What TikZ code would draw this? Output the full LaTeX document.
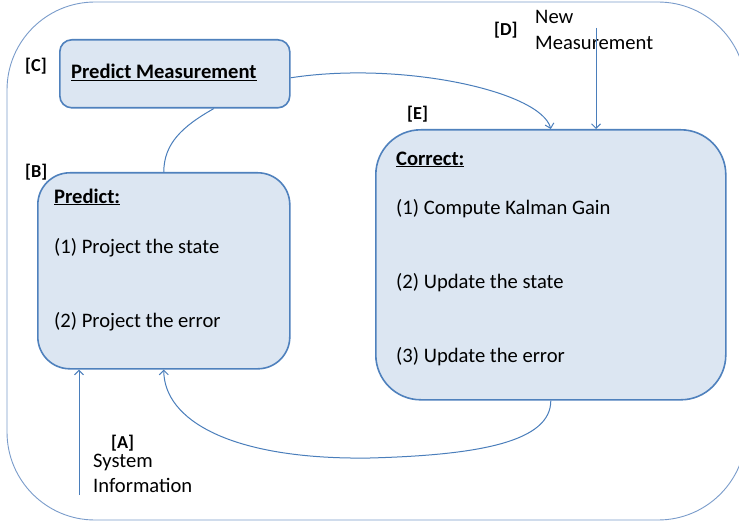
\documentclass[tikz,border=0pt]{standalone}
\usepackage{fontspec}
\setmainfont{Carlito}
\usetikzlibrary{arrows.meta}
\definecolor{boxfill}{HTML}{DCE6F2}
\definecolor{boxline}{HTML}{4F81BD}
\definecolor{conn}{HTML}{4A7EBB}
\definecolor{outer}{HTML}{7A9CCB}
\tikzset{
  box/.style={draw=boxline, fill=boxfill, line width=1.6pt, inner sep=0pt, anchor=north west},
  txt/.style={anchor=base west, inner sep=0pt, font=\fontsize{20.6}{24}\selectfont},
  btxt/.style={txt, font=\fontsize{20.6}{24}\selectfont\bfseries},
  lbl/.style={anchor=base west, inner sep=0pt, font=\fontsize{18.3}{22}\selectfont\bfseries},
  conline/.style={draw=conn, line width=1pt},
  arr/.style={conline, -{Straight Barb[length=4.5pt,width=9pt]}},
}
\begin{document}
\begin{tikzpicture}[x=1pt,y=-1pt]
\useasboundingbox (0,0) rectangle (739,524);
\clip (0,0) rectangle (739,524);
\fill[white] (0,0) rectangle (739,524);
% outer frame
\draw[outer, line width=0.9pt, rounded corners=88pt] (7,2) rectangle (746,520);

% boxes
\node[box, rounded corners=12pt, minimum width=230, minimum height=68] (C) at (59,39) {};
\node[box, rounded corners=32pt, minimum width=252, minimum height=196] (B) at (37,172) {};
\node[box, rounded corners=45pt, minimum width=350, minimum height=270] (E) at (375,129) {};

% box texts
\node[btxt] (ctext) at (71,79) {\underline{Predict Measurement}};
\node[btxt] (btitle) at (54,203) {\underline{Predict:}};
\node[txt] (b1) at (54,253) {(1) Project the state};
\node[txt] (b2) at (54,327) {(2) Project the error};
\node[btxt] (etitle) at (396,165) {\underline{Correct:}};
\node[txt] (e1) at (396,214) {(1) Compute Kalman Gain};
\node[txt] (e2) at (396,288) {(2) Update the state};
\node[txt] (e3) at (396,362) {(3) Update the error};

% letter labels
\node[lbl] (lC) at (25,72) {[C]};
\node[lbl] (lB) at (25,178) {[B]};
\node[lbl] (lE) at (407,120) {[E]};
\node[lbl] (lD) at (494,36) {[D]};
\node[lbl] (lA) at (111,448) {[A]};

% input texts
\node[txt] (new1) at (535,24) {New};
\node[txt] (new2) at (535,50) {Measurement};
\node[txt] (sys1) at (93,467) {System};
\node[txt] (sys2) at (93,492) {Information};

% free ends
\coordinate (dtop) at (596,28);
\coordinate (abot) at (79,495);

% connectors
\draw[conline] ([xshift=39pt]C.south) .. controls +(-32,18) and +(0,-28) .. (B.north);
\draw[arr] ([yshift=-4pt]C.east) .. controls +(110,-17) and +(-10,-38) .. (E.north);
\draw[arr] (dtop) -- (dtop |- E.north);
\draw[arr] (E.south) .. controls +(0,41) and +(110,-3) .. (370,458)
  .. controls +(-140,2) and +(0,50) .. (B.south);
\draw[arr] (abot) -- (abot |- B.south);
\end{tikzpicture}
\end{document}
